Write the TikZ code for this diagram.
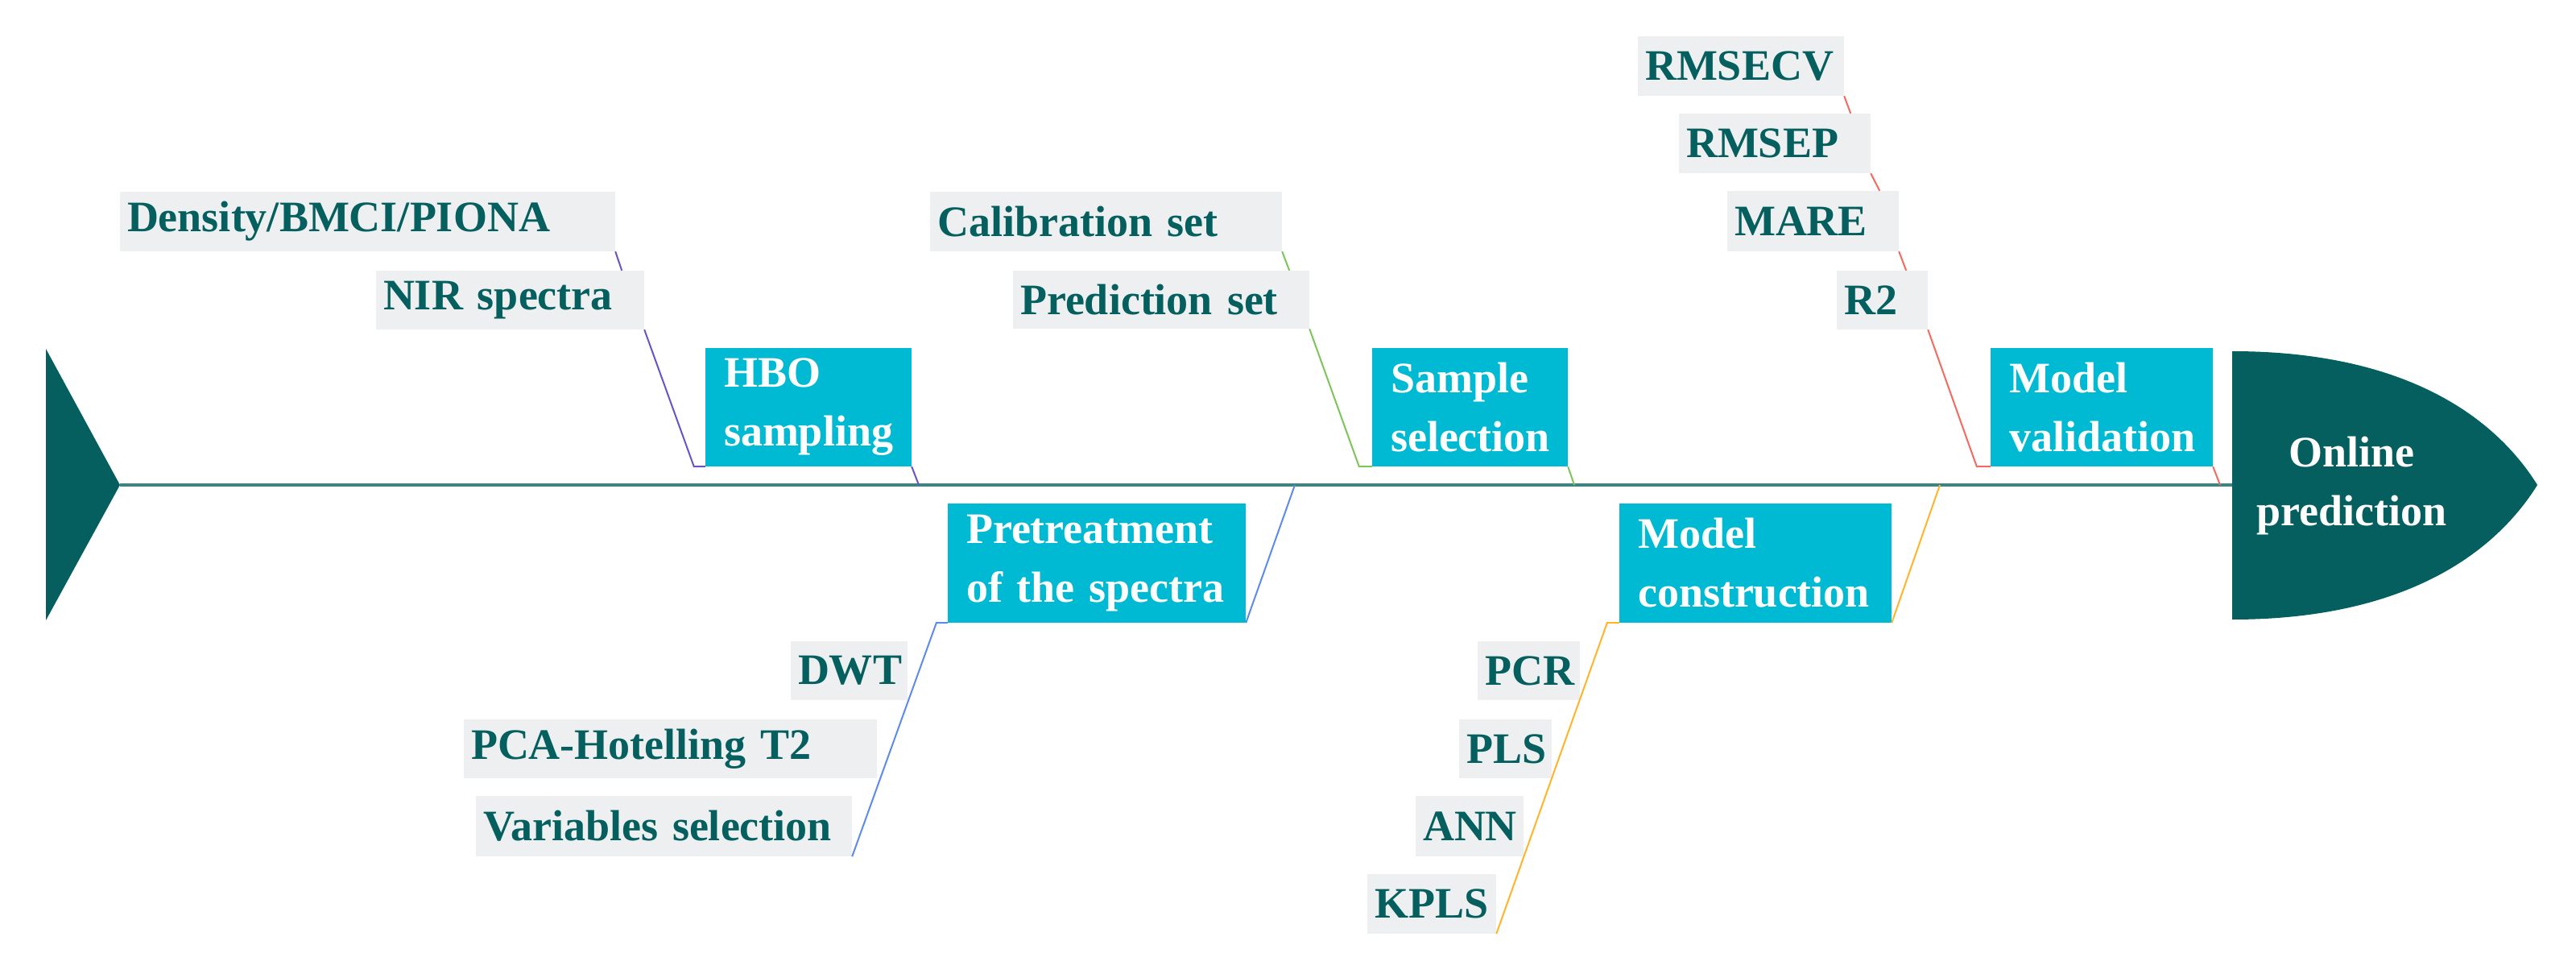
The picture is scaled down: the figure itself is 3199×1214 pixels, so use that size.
\documentclass[tikz,border=0pt]{standalone}
\usepackage{fontspec}
\setmainfont{Liberation Serif}
\usetikzlibrary{calc}
\definecolor{teal1}{HTML}{045F5E}
\definecolor{cyan1}{HTML}{00BAD4}
\definecolor{gray1}{HTML}{EDEFF1}
\definecolor{spine}{HTML}{3F8483}
\definecolor{cpur}{HTML}{6A52C8}
\definecolor{cgrn}{HTML}{7DC55A}
\definecolor{cblu}{HTML}{5B8CEB}
\definecolor{corg}{HTML}{FFB42A}
\definecolor{cred}{HTML}{F56A5E}
\begin{document}
\begin{tikzpicture}[x=1pt,y=-1pt,
  every node/.style={font=\fontsize{54}{73}\selectfont\bfseries},
  gbox/.style={fill=gray1,text=teal1,inner xsep=9pt,inner ysep=0pt,align=left},
  cbox/.style={fill=cyan1,text=white,inner xsep=23pt,inner ysep=0pt,align=left},
  conn/.style={line width=2pt}]
\useasboundingbox (0,0) rectangle (3199,1214);
% spine, tail, head
\coordinate (tailtip) at (149,602);
\coordinate (headl) at (2772,602);
\fill[teal1] (57,433) -- (tailtip) -- (57,770) -- cycle;
\fill[teal1] (2772,436) .. controls (2990,436) and (3100,520) .. (3151,602)
  .. controls (3100,684) and (2990,769) .. (2772,769) -- cycle;
\node[text=white,align=center] (online) at (2920,603) {Online\\prediction};
\draw[spine,line width=4pt] (tailtip) -- (headl);
% main boxes
\node[cbox,minimum width=256pt,minimum height=147pt,text width=210pt] (hbo) at (1004,505.5) {HBO\\sampling};
\node[cbox,minimum width=243pt,minimum height=147pt,text width=197pt] (samp) at (1825.5,505.5) {Sample\\selection};
\node[cbox,minimum width=276pt,minimum height=147pt,text width=230pt] (valid) at (2610,505.5) {Model\\validation};
\node[cbox,minimum width=370pt,minimum height=148pt,text width=324pt] (pre) at (1362,699) {Pretreatment\\of the spectra};
\node[cbox,minimum width=336pt,minimum height=148pt,text width=292pt] (cons) at (2180,699) {Model\\construction};
% labels
\node[gbox,minimum width=615pt,minimum height=74pt,text width=597pt] (dens) at (456.5,275) {Density/BMCI/PIONA};
\node[gbox,minimum width=333pt,minimum height=73pt,text width=315pt] (nir) at (633.5,372.5) {NIR spectra};
\node[gbox,minimum width=437pt,minimum height=74pt,text width=419pt] (cal) at (1373.5,275) {Calibration set};
\node[gbox,minimum width=368pt,minimum height=72pt,text width=350pt] (pred) at (1442,372) {Prediction set};
\node[gbox,minimum width=145pt,minimum height=73pt,text width=127pt] (dwt) at (1054.5,832.5) {DWT};
\node[gbox,minimum width=513pt,minimum height=73pt,text width=495pt] (pca) at (832.5,929.5) {PCA-Hotelling T2};
\node[gbox,minimum width=467pt,minimum height=75pt,text width=449pt] (var) at (824.5,1025.5) {Variables selection};
\node[gbox,minimum width=127pt,minimum height=73pt,text width=109pt] (pcr) at (1898.5,832.5) {PCR};
\node[gbox,minimum width=115pt,minimum height=73pt,text width=97pt] (pls) at (1869.5,929.5) {PLS};
\node[gbox,minimum width=134pt,minimum height=75pt,text width=116pt] (ann) at (1825,1025.5) {ANN};
\node[gbox,minimum width=160pt,minimum height=74pt,text width=142pt] (kpls) at (1778,1122) {KPLS};
\node[gbox,minimum width=256pt,minimum height=74pt,text width=238pt] (rmsecv) at (2162,82) {RMSECV};
\node[gbox,minimum width=238pt,minimum height=74pt,text width=220pt] (rmsep) at (2204,178) {RMSEP};
\node[gbox,minimum width=213pt,minimum height=75pt,text width=195pt] (mare) at (2251.5,274.5) {MARE};
\node[gbox,minimum width=113pt,minimum height=73pt,text width=95pt] (r2) at (2337.5,372.5) {R2};
% spine points
\coordinate (s1) at (1141,602);
\coordinate (s2) at (1955,602);
\coordinate (s3) at (2757,602);
\coordinate (s4) at (1608,602);
\coordinate (s5) at (2409,602);
% purple
\draw[cpur,conn] (dens.south east) -- ($(nir.north east)+(-28,0)$);
\draw[cpur,conn] (nir.south east) -- ($(hbo.south west)+(-14,0)$) -- (hbo.south west);
\draw[cpur,conn] (hbo.south east) -- (s1);
% green
\draw[cgrn,conn] (cal.south east) -- ($(pred.north east)+(-25,0)$);
\draw[cgrn,conn] (pred.south east) -- ($(samp.south west)+(-16,0)$) -- (samp.south west);
\draw[cgrn,conn] (samp.south east) -- (s2);
% red
\draw[cred,conn] (rmsecv.south east) -- ($(rmsep.north east)+(-25,0)$);
\draw[cred,conn] (rmsep.south east) -- ($(mare.north east)+(-24,0)$);
\draw[cred,conn] (mare.south east) -- ($(r2.north east)+(-27,0)$);
\draw[cred,conn] (r2.south east) -- ($(valid.south west)+(-17,0)$) -- (valid.south west);
\draw[cred,conn] (valid.south east) -- (s3);
% blue
\draw[cblu,conn] (s4) -- (pre.south east);
\draw[cblu,conn] (pre.south west) -- ($(pre.south west)+(-14,0)$) -- (var.south east);
% orange
\draw[corg,conn] (s5) -- (cons.south east);
\draw[corg,conn] (cons.south west) -- ($(cons.south west)+(-15,0)$) -- (kpls.south east);
\end{tikzpicture}
\end{document}
